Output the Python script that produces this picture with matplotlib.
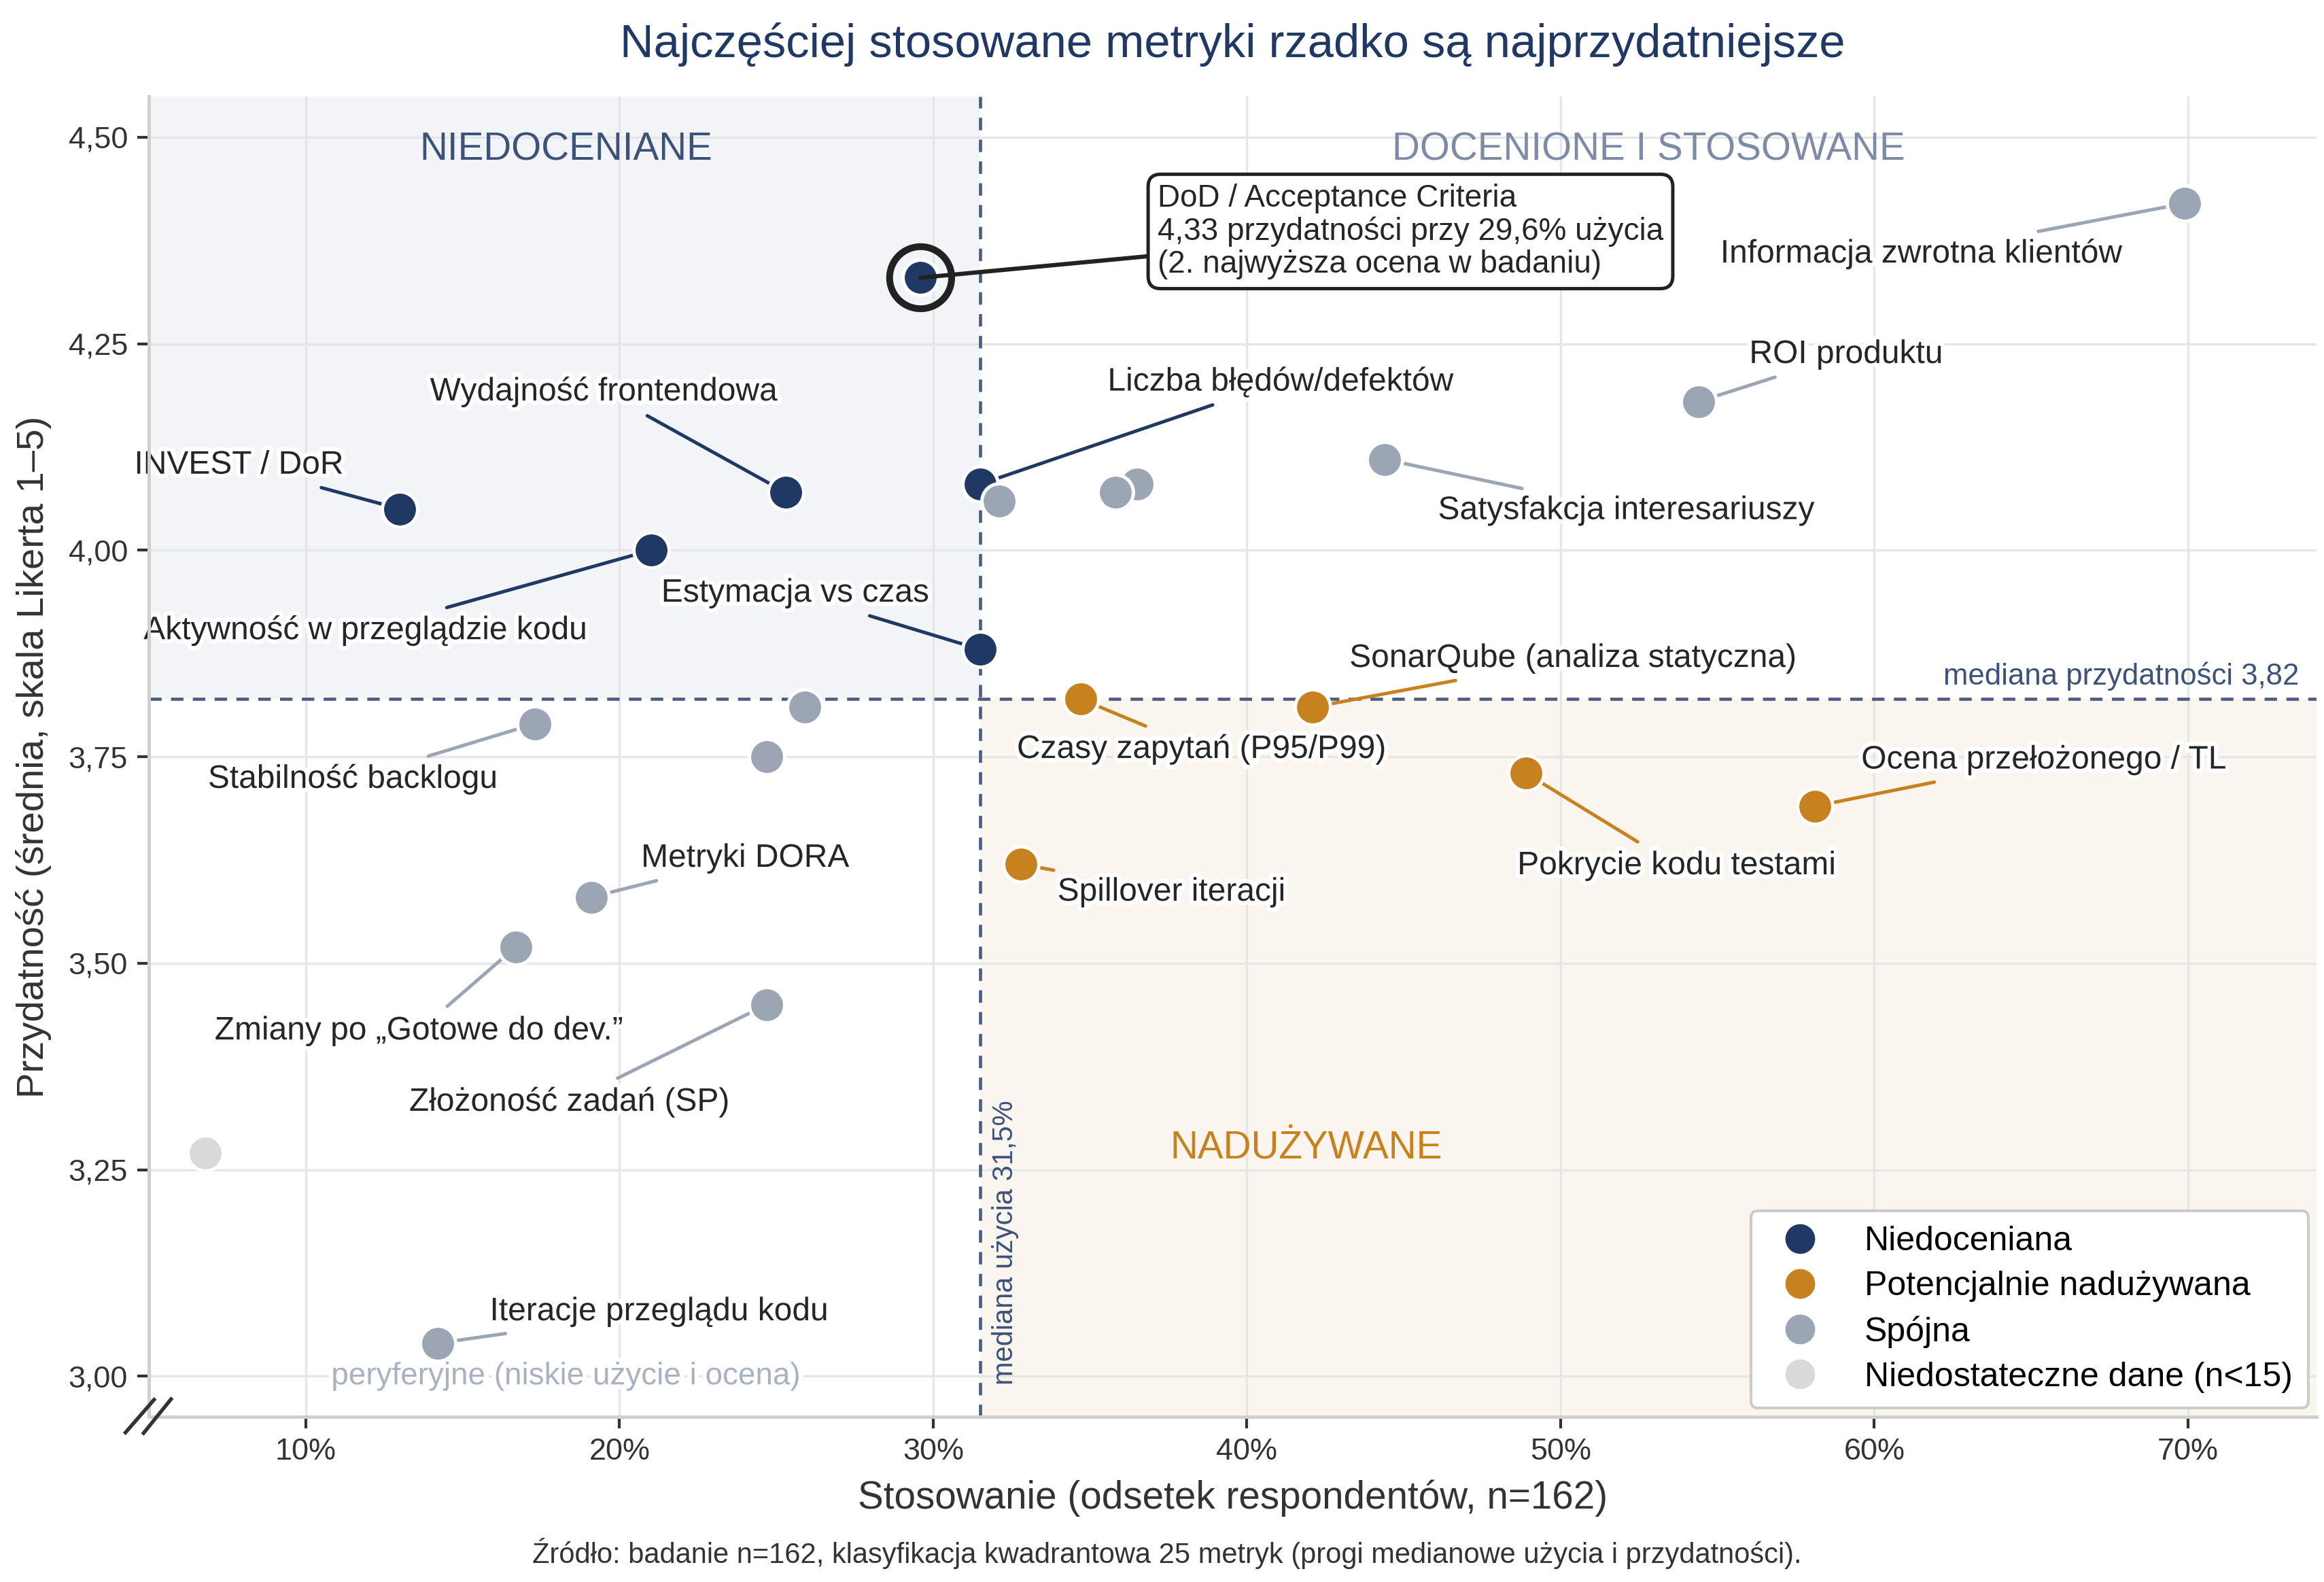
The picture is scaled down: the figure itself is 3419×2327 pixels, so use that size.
import matplotlib
matplotlib.use('Agg')
import matplotlib.pyplot as plt
from matplotlib import patheffects as pe
from matplotlib.lines import Line2D
import matplotlib.ticker as mticker

plt.rcParams['font.family'] = ['Liberation Sans', 'DejaVu Sans']

# ---------------- data ----------------
metrics = [
    "DoD / Acceptance Criteria", "INVEST / DoR", "Wydajność frontendowa",
    "Aktywność w przeglądzie kodu", "Liczba błędów/defektów", "Estymacja vs czas",
    None, None, None,
    "Satysfakcja interesariuszy", "ROI produktu", "Informacja zwrotna klientów",
    "Czasy zapytań (P95/P99)", "SonarQube (analiza statyczna)", "Pokrycie kodu testami",
    "Ocena przełożonego / TL", "Spillover iteracji",
    "Stabilność backlogu", None, None, "Metryki DORA",
    "Zmiany po „Gotowe do dev.”", "Złożoność zadań (SP)", None,
    "Iteracje przeglądu kodu",
]
usage = [29.6, 13.0, 25.3, 21.0, 31.5, 31.5,
         36.5, 32.1, 35.8,
         44.4, 54.4, 69.9,
         34.7, 42.1, 48.9, 58.1, 32.8,
         17.3, 25.9, 24.7, 19.1, 16.7, 24.7, 6.8, 14.2]
usefulness = [4.33, 4.05, 4.07, 4.00, 4.08, 3.88,
              4.08, 4.06, 4.07,
              4.11, 4.18, 4.42,
              3.82, 3.81, 3.73, 3.69, 3.62,
              3.79, 3.81, 3.75, 3.58, 3.52, 3.45, 3.27, 3.04]
category = ["N"] * 6 + ["S"] * 6 + ["P"] * 5 + ["S"] * 6 + ["I"] + ["S"]

categories = ["N", "P", "S", "I"]
category_labels = ["Niedoceniana", "Potencjalnie nadużywana", "Spójna",
                   "Niedostateczne dane (n<15)"]
MED_USAGE = 31.5
MED_USEFUL = 3.82
x_ticks = [10, 20, 30, 40, 50, 60, 70]
y_ticks = [3.00, 3.25, 3.50, 3.75, 4.00, 4.25, 4.50]
highlight = "DoD / Acceptance Criteria"

# ---------------- style / layout ----------------
colors = {"N": "#1f3864", "P": "#c8811f", "S": "#9ba5b3", "I": "#d9d9d9"}
label_pos = {
    "INVEST / DoR": (7.86, 4.103),
    "Wydajność frontendowa": (19.5, 4.192),
    "Liczba błędów/defektów": (41.07, 4.204),
    "Aktywność w przeglądzie kodu": (11.9, 3.903),
    "Estymacja vs czas": (25.6, 3.948),
    "Informacja zwrotna klientów": (61.5, 4.359),
    "ROI produktu": (59.1, 4.237),
    "Satysfakcja interesariuszy": (52.1, 4.048),
    "SonarQube (analiza statyczna)": (50.4, 3.869),
    "Czasy zapytań (P95/P99)": (38.55, 3.759),
    "Ocena przełożonego / TL": (65.4, 3.746),
    "Pokrycie kodu testami": (53.7, 3.618),
    "Spillover iteracji": (37.6, 3.586),
    "Stabilność backlogu": (11.5, 3.723),
    "Metryki DORA": (24.0, 3.627),
    "Zmiany po „Gotowe do dev.”": (13.6, 3.418),
    "Złożoność zadań (SP)": (18.4, 3.332),
    "Iteracje przeglądu kodu": (21.26, 3.078),
}
XLIM = (5.0, 74.1)
YLIM = (2.951, 4.549)

fig = plt.figure(figsize=(3419 / 300, 2327 / 300), dpi=300)
L, B, R, T = 0.0641, 0.1045, 0.9968, 0.9388
ax = fig.add_axes([L, B, R - L, T - B])
ax.set_xlim(*XLIM)
ax.set_ylim(*YLIM)

# quadrant shading
yfrac = (MED_USEFUL - YLIM[0]) / (YLIM[1] - YLIM[0])
ax.axvspan(XLIM[0], MED_USAGE, ymin=yfrac, ymax=1,
           facecolor="#f2f4f8", edgecolor="none", zorder=0)
ax.axvspan(MED_USAGE, XLIM[1], ymin=0, ymax=yfrac,
           facecolor="#faf6ef", edgecolor="none", zorder=0)

ax.set_axisbelow(True)
ax.grid(True, color="#e6e6e6", lw=0.8)

# median lines
ax.axvline(MED_USAGE, color="#4a5d80", lw=1.1, ls=(0, (4, 3)), zorder=1.5)
ax.axhline(MED_USEFUL, color="#4a5d80", lw=1.1, ls=(0, (4, 3)), zorder=1.5)

halo = [pe.withStroke(linewidth=3, foreground="white")]

# points
for c in categories:
    xs = [u for u, k in zip(usage, category) if k == c]
    ys = [v for v, k in zip(usefulness, category) if k == c]
    ax.scatter(xs, ys, s=155, color=colors[c], edgecolors="white", linewidths=1.2, zorder=3)

# labels with leader lines
for name, u, v, k in zip(metrics, usage, usefulness, category):
    if name is None or name == highlight:
        continue
    tx, ty = label_pos[name]
    ax.annotate(name, xy=(u, v), xytext=(tx, ty), ha="center", va="center",
                fontsize=11.5, color="#262626", path_effects=halo, zorder=2.5,
                arrowprops=dict(arrowstyle="-", color=colors[k], lw=1.2,
                                shrinkA=2, shrinkB=0))

# highlight
hi = metrics.index(highlight)
ax.scatter([usage[hi]], [usefulness[hi]], s=480, facecolors="none",
           edgecolors="#222222", linewidths=2.4, zorder=4)
ax.annotate(f"{highlight}\n4,33 przydatności przy 29,6% użycia\n(2. najwyższa ocena w badaniu)",
            xy=(usage[hi], usefulness[hi]), xytext=(37.15, 4.386),
            ha="left", va="center", fontsize=11, color="#262626", zorder=6,
            linespacing=1.12,
            bbox=dict(boxstyle="round,pad=0.3,rounding_size=0.4", fc="white",
                      ec="#222222", lw=1.2),
            arrowprops=dict(arrowstyle="-", color="#222222", lw=1.5, shrinkA=0, shrinkB=0))

# quadrant labels
ax.text(18.3, 4.485, "NIEDOCENIANE", ha="center", va="center", fontsize=13.6,
        color="#3d5279", zorder=2)
ax.text(52.8, 4.485, "DOCENIONE I STOSOWANE", ha="center", va="center", fontsize=13.6,
        color="#7d8ba6", zorder=2)
ax.text(41.9, 3.276, "NADUŻYWANE", ha="center", va="center", fontsize=13.6,
        color="#c8811f", zorder=2)
ax.text(18.3, 3.0, "peryferyjne (niskie użycie i ocena)", ha="center", va="center",
        fontsize=11, color="#a9b3bf", zorder=2, path_effects=halo)

# median annotations
ax.annotate(f"mediana przydatności {MED_USEFUL:.2f}".replace(".", ","),
            xy=(0.992, MED_USEFUL), xycoords=("axes fraction", "data"),
            xytext=(0, 3), textcoords="offset points", ha="right", va="bottom",
            fontsize=10.5, color="#3d5279")
ax.annotate(f"mediana użycia {MED_USAGE:.1f}%".replace(".", ","),
            xy=(MED_USAGE, 0.024), xycoords=("data", "axes fraction"),
            xytext=(4, 0), textcoords="offset points", ha="left", va="bottom",
            rotation=90, fontsize=10, color="#3d5279")

# axes styling
ax.set_xticks(x_ticks)
ax.set_yticks(y_ticks)
ax.xaxis.set_major_formatter(mticker.FuncFormatter(lambda v, p: f"{v:.0f}%"))
ax.yaxis.set_major_formatter(mticker.FuncFormatter(lambda v, p: f"{v:.2f}".replace(".", ",")))
ax.tick_params(labelsize=10.8, colors="#333333", length=4, width=1)
for s in ["top", "right"]:
    ax.spines[s].set_visible(False)
for s in ["left", "bottom"]:
    ax.spines[s].set_color("#d0d0d0")
    ax.spines[s].set_linewidth(1.2)

ax.set_xlabel("Stosowanie (odsetek respondentów, n=162)", fontsize=13.6, color="#333333",
              labelpad=5)
ax.set_ylabel("Przydatność (średnia, skala Likerta 1–5)", fontsize=13.5, color="#333333",
              labelpad=6)
ax.set_title("Najczęściej stosowane metryki rzadko są najprzydatniejsze", fontsize=16.5,
             color="#1f3864", pad=14)

# axis break marks
fw, fh = fig.get_size_inches()
cx, cy = L * fw, B * fh
for (x0, y0, x1, y1) in [(-8.3, -5.6, 1.8, 6.0), (-1.9, -5.8, 7.8, 6.2)]:
    fig.add_artist(Line2D([cx + x0 / 72, cx + x1 / 72], [cy + y0 / 72, cy + y1 / 72],
                          transform=fig.dpi_scale_trans, color="#333333", lw=1.3,
                          clip_on=False))

# legend
handles = [Line2D([], [], marker="o", ls="", markerfacecolor=colors[c],
                  markeredgecolor="white", markersize=11.5) for c in categories]
leg = ax.legend(handles, category_labels, loc="lower right", fontsize=12,
                frameon=True, framealpha=1, edgecolor="#cccccc", borderaxespad=0.25,
                labelspacing=0.4, handletextpad=0.9, borderpad=0.45)
leg.set_zorder(7)

fig.text(0.502, 0.018, "Źródło: badanie n=162, klasyfikacja kwadrantowa 25 metryk (progi medianowe użycia i przydatności).",
         ha="center", va="center", fontsize=10, color="#333333")

fig.savefig("out.png", dpi=300)
